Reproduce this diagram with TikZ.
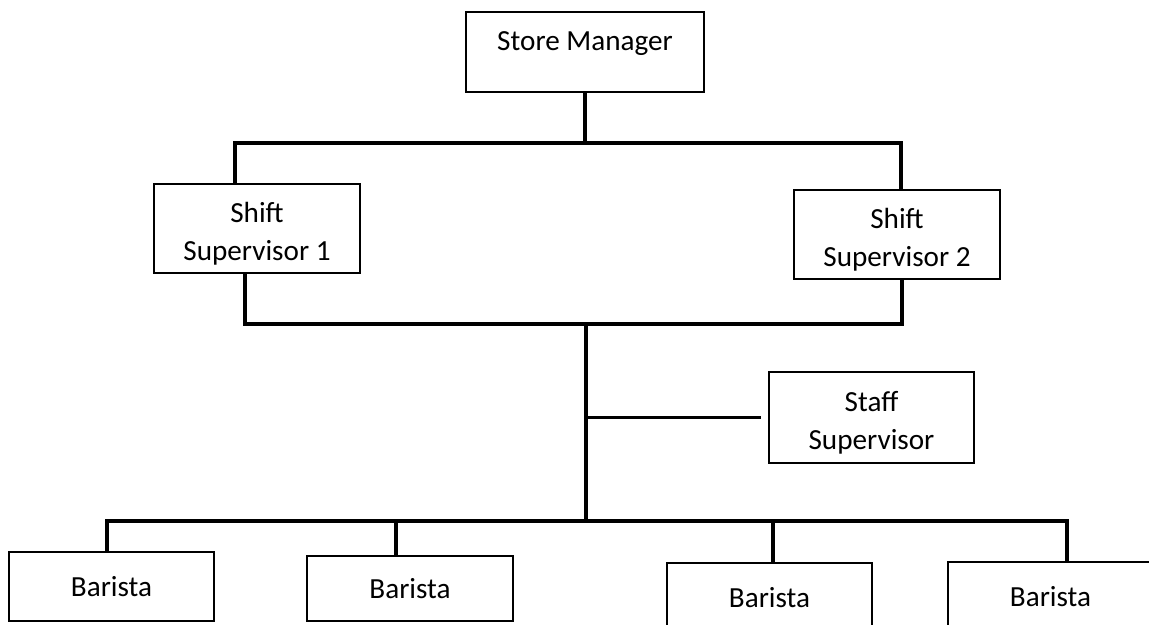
\documentclass[tikz,border=0pt]{standalone}
\usepackage{fontspec}
\setmainfont{Carlito}
\usetikzlibrary{positioning, calc}

\begin{document}
\begin{tikzpicture}[x=0.02cm, y=-0.02cm,
        post/.style={draw, line width=1.1pt, inner sep=0pt, align=center,
            font=\fontsize{16.6}{21.6}\selectfont},
        twoline/.style={text height=1.4cm, text depth=0.12cm},
        wire/.style={line width=2pt}]
        \useasboundingbox (0, 0) rectangle (1149, 625);
        \clip (0, 0) rectangle (1149, 625);
        \path (585, 52) node[post, minimum width=4.76cm, minimum height=1.6cm,
            text height=0.4cm, text depth=0.44cm](Manager){Store Manager};
        \path (257, 228.5) node[post, twoline, minimum width=4.12cm, minimum height=1.78cm](ShiftA){Shift \\ Supervisor 1};
        \path (897, 234.5) node[post, twoline, minimum width=4.12cm, minimum height=1.78cm](ShiftB){Shift \\ Supervisor 2};
        \path (871.5, 417.5) node[post, twoline, minimum width=4.1cm, minimum height=1.82cm](Staff){Staff \\ Supervisor};
        \path (111.5, 586.5) node[post, minimum width=4.1cm, minimum height=1.38cm](BaristaA){Barista};
        \path (410, 588.5) node[post, minimum width=4.12cm, minimum height=1.3cm](BaristaB){Barista};
        \path (769.5, 597.5) node[post, minimum width=4.1cm, minimum height=1.38cm](BaristaC){Barista};
        \path (1050.5, 596.5) node[post, minimum width=4.1cm, minimum height=1.38cm](BaristaD){Barista};
        % bus lines
        \coordinate (TopL) at (235, 143);
        \coordinate (TopR) at (901, 143);
        \coordinate (MidL) at (245, 324);
        \coordinate (MidR) at (902, 324);
        \coordinate (Trunk) at (586, 324);
        \coordinate (BotL) at (107, 521);
        \coordinate (BotR) at (1067, 521);
        \coordinate (DropB) at (396, 521);
        \coordinate (DropC) at (773, 521);
        \draw[wire] (Manager.south) -- (Manager.south |- TopL);
        \draw[wire] (TopL |- ShiftA.north) -- (TopL) -- (TopR) -- (TopR |- ShiftB.north);
        \draw[wire] (MidL |- ShiftA.south) -- (MidL) -- (MidR) -- (MidR |- ShiftB.south);
        \draw[wire] (Trunk) -- (Trunk |- BotL);
        \draw[wire, shorten >=0.14cm] (Trunk |- Staff.west) -- (Staff.west);
        \draw[wire] (BotL |- BaristaA.north) -- (BotL) -- (BotR) -- (BotR |- BaristaD.north);
        \draw[wire] (DropB) -- (DropB |- BaristaB.north);
        \draw[wire] (DropC) -- (DropC |- BaristaC.north);
    \end{tikzpicture}
\end{document}
